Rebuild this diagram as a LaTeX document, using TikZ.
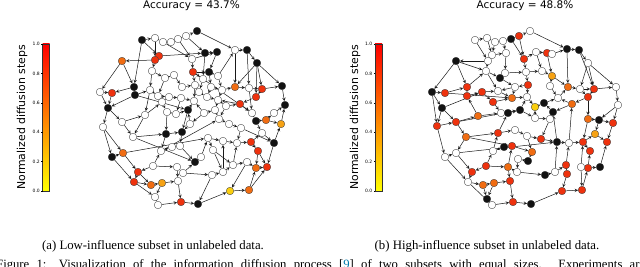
\documentclass[tikz,border=0pt]{standalone}
\usepackage{fontspec}
\setmainfont{Liberation Serif}
\newfontfamily\plotfont{DejaVu Sans}
\usetikzlibrary{positioning,backgrounds}

\definecolor{nW}{RGB}{255,255,255}
\definecolor{nK}{RGB}{18,18,18}
\definecolor{nR}{RGB}{238,50,14}
\definecolor{nO}{RGB}{240,108,18}
\definecolor{nA}{RGB}{246,162,20}
\definecolor{nY}{RGB}{250,206,14}
\definecolor{citeblue}{RGB}{0,120,170}

\tikzset{
  gnode/.style={circle, draw=black!75, line width=0.35pt, inner sep=0pt, minimum size=7.6pt},
  gedge/.style={->, line width=0.5pt, black!90},
  cbar/.style={draw=black!80, line width=0.4pt},
  ticklbl/.style={font=\plotfont\fontsize{4.5}{5}\selectfont, anchor=east, inner sep=0.5pt},
  cbtitle/.style={font=\plotfont\fontsize{10.9}{12}\selectfont, rotate=90},
  acctitle/.style={font=\plotfont\fontsize{10.5}{12}\selectfont, anchor=base},
  subcap/.style={font=\fontsize{12.8}{14}\selectfont, anchor=base},
}

\begin{document}
\begin{tikzpicture}[x=1pt, y=-1pt, >=stealth]
\useasboundingbox (0,0) rectangle (640,267);

% (a) colour bar
\shade[bottom color=yellow, top color=red] (42.5,191) rectangle (49.5,44);
\draw[cbar] (42.5,191) rectangle (49.5,44);
\foreach \v [count=\i from 0] in {0.0,0.2,0.4,0.6,0.8,1.0} {
  \draw[line width=0.3pt] (42.5,191-29.4*\i) -- ++(-1.5,0);
  \node[ticklbl] (ta\i) at (40.5,191-29.4*\i) {\v};
}
\node[cbtitle] (cba) at (22,117.5) {Normalized diffusion steps};
\node[acctitle] (titlea) at (191.5,8.5) {Accuracy = 43.7\%};

% (a) graph
\foreach \n/\x/\y/\c in {1/197/31/nK, 2/142/40/nK, 3/155/38/nW, 4/163/42/nW, 5/171/42/nW, 6/178/39/nW,
  7/186/36/nW, 8/205/53/nK, 9/217/52/nK, 10/235/50/nW, 11/247/50/nK, 12/159/56/nR, 13/155/60/nR,
  14/122/61/nO, 15/192/59/nW, 16/257/63/nK, 17/152/71/nW, 18/165/78/nW, 19/174/75/nW, 20/193/72/nR,
  21/209/72/nK, 22/203/79/nW, 23/218/76/nW, 24/134/87/nK, 25/135/95/nK, 26/100/92/nW, 27/112/93/nR,
  28/150/90/nW, 29/158/96/nW, 30/182/87/nW, 31/195/85/nW, 32/199/92/nW, 33/211/87/nW, 34/169/97/nW,
  35/181/98/nW, 36/207/97/nW, 37/222/90/nW, 38/235/87/nO, 39/249/88/nW, 40/262/89/nR, 41/282/86/nK,
  42/256/97/nR, 43/240/104/nR, 44/285/105/nK, 45/108/108/nK, 46/145/115/nW, 47/167/112/nW,
  48/176/114/nW, 49/188/110/nK, 50/204/113/nW, 51/215/110/nW, 52/219/119/nW, 53/252/113/nW,
  54/266/120/nO, 55/256/121/nK, 56/274/113/nW, 57/281/124/nA, 58/162/102/nW, 59/226/106/nW,
  60/194/101/nW, 61/122/122/nW, 62/103/127/nW, 63/133/137/nW, 64/166/134/nK, 65/182/132/nK,
  66/208/138/nW, 67/223/141/nW, 68/237/143/nW, 69/251/142/nR, 70/274/143/nK, 71/262/133/nW,
  72/112/157/nK, 73/123/153/nO, 74/161/151/nW, 75/172/147/nW, 76/180/146/nW, 77/195/162/nK,
  78/201/157/nW, 79/153/166/nW, 80/138/172/nR, 81/177/167/nW, 82/183/173/nW, 83/212/175/nW,
  84/223/172/nW, 85/233/165/nW, 86/247/162/nW, 87/256/168/nO, 88/267/167/nR, 89/258/151/nR,
  90/134/182/nR, 91/151/185/nO, 92/162/183/nA, 93/178/181/nW, 94/230/191/nY, 95/249/190/nO,
  96/155/197/nW, 97/158/205/nW, 98/181/202/nR, 99/198/204/nK, 100/213/150/nW, 101/218/100/nW,
  102/229/124/nW, 103/241/128/nW, 104/190/124/nW}
  \node[gnode, fill=\c] (a\n) at (\x,\y) {};

\begin{scope}[on background layer]
\foreach \s/\t in {2/3, 3/4, 4/5, 5/6, 6/7, 7/1, 1/10, 10/11, 11/16, 2/24, 2/12, 3/13, 4/15, 6/15, 7/8,
  12/13, 12/8, 13/14, 14/26, 14/24, 13/17, 15/20, 15/9, 8/9, 9/21, 8/22, 20/21, 20/22,
  17/18, 17/28, 18/19, 18/29, 19/30, 20/31, 21/23, 21/33, 22/32, 23/37, 23/10, 10/38,
  11/39, 16/40, 16/42, 16/41, 16/38, 24/25, 24/27, 25/28, 25/45, 26/27, 26/45, 27/45,
  28/29, 29/34, 34/35, 30/31, 31/32, 32/36, 33/36, 33/37, 37/38, 38/39, 39/40, 40/41, 40/42,
  42/43, 41/44, 39/53, 43/53, 35/60, 34/58, 28/46, 29/58, 31/60, 36/101, 37/101, 101/51,
  43/101, 59/43, 59/52, 101/59, 45/62, 45/61, 61/46, 62/72, 61/63, 62/73,
  46/58, 46/63, 58/47, 35/48, 47/48, 48/49, 49/60, 49/65, 47/64, 50/51, 50/60, 50/104, 104/49,
  104/65, 51/52, 52/102, 102/103, 103/68, 53/55, 55/54, 54/56, 56/44, 54/57, 57/44, 55/71,
  71/70, 70/57, 63/64, 64/65, 64/74, 65/76, 74/75, 75/76, 76/77, 77/78, 78/66, 66/67, 67/68,
  68/69, 69/71, 69/89, 89/88, 89/87, 70/88, 66/100, 100/84, 100/85,
  72/73, 73/80, 72/90, 80/90, 80/91, 90/91, 91/92, 92/96, 96/97, 90/96, 97/98, 98/99, 99/94,
  94/95, 95/88, 95/87, 87/88, 86/87, 85/86, 84/85, 83/84, 83/99, 82/83, 81/82, 79/81, 79/74,
  79/80, 81/93, 93/98, 92/93, 82/77, 86/94, 85/68, 84/67,
  73/66, 25/49, 20/53, 63/77, 74/52, 103/70}
  \draw[gedge] (a\s) -- (a\t);
\end{scope}

% (b) colour bar
\shade[bottom color=yellow, top color=red] (375,191) rectangle (382,44);
\draw[cbar] (375,191) rectangle (382,44);
\foreach \v [count=\i from 0] in {0.0,0.2,0.4,0.6,0.8,1.0} {
  \draw[line width=0.3pt] (375,191-29.4*\i) -- ++(-1.5,0);
  \node[ticklbl] (tb\i) at (373,191-29.4*\i) {\v};
}
\node[cbtitle] (cbb) at (355,117.5) {Normalized diffusion steps};
\node[acctitle] (titleb) at (525,8.5) {Accuracy = 48.8\%};

% (b) graph
\foreach \n/\x/\y/\c in {1/530/31/nW, 2/519/36/nR, 3/511/39/nK, 4/503/41/nW, 5/495/42/nW, 6/487/38/nW,
  7/475/40/nW, 8/492/55/nW, 9/488/61/nW, 10/456/61/nK, 11/524/59/nR, 12/506/53/nW, 13/536/52/nW,
  14/547/53/nR, 15/552/54/nW, 16/567/49/nK, 17/579/50/nK, 18/588/63/nW, 19/486/71/nW, 20/505/73/nW,
  21/500/78/nK, 22/526/72/nW, 23/542/71/nW, 24/552/76/nA, 25/528/85/nR, 26/550/86/nW, 27/515/87/nW,
  28/432/92/nK, 29/445/93/nR, 30/467/87/nR, 31/467/96/nR, 32/482/92/nR, 33/493/102/nR, 34/498/91/nW,
  35/512/98/nO, 36/527/97/nW, 37/535/107/nY, 38/544/103/nK, 39/558/98/nW, 40/568/87/nO, 41/580/89/nW,
  42/594/89/nR, 43/616/87/nW, 44/588/97/nR, 45/572/104/nO, 46/618/105/nW, 47/442/108/nK,
  48/478/116/nO, 49/501/113/nW, 50/508/113/nK, 51/520/110/nK, 52/553/112/nK, 53/550/119/nW,
  54/535/118/nW, 55/588/119/nO, 56/599/120/nK, 57/613/123/nR, 58/437/126/nR, 59/456/122/nR,
  60/466/137/nO, 61/498/133/nR, 62/515/130/nW, 63/527/136/nW, 64/504/147/nK, 65/512/146/nR,
  66/493/151/nW, 67/541/139/nR, 68/557/142/nK, 69/569/143/nW, 70/583/142/nR, 71/595/134/nA,
  72/607/142/nR, 73/532/152/nO, 74/528/161/nK, 75/590/151/nR, 76/445/157/nW, 77/456/153/nW,
  78/486/166/nR, 79/472/172/nR, 80/508/167/nO, 81/517/172/nW, 82/518/159/nW, 83/545/175/nK,
  84/555/172/nW, 85/566/165/nR, 86/567/174/nR, 87/588/168/nR, 88/600/167/nK, 89/581/167/nW,
  90/468/182/nW, 91/483/185/nO, 92/494/183/nO, 93/510/181/nR, 94/562/191/nR, 95/582/190/nR,
  96/487/199/nK, 97/492/205/nW, 98/513/202/nR, 99/531/204/nK}
  \node[gnode, fill=\c] (b\n) at (\x,\y) {};

\begin{scope}[on background layer]
\foreach \s/\t in {7/6, 6/5, 5/4, 4/3, 3/2, 2/1, 1/16, 16/17, 17/18, 7/9, 6/8, 4/12, 3/11, 2/11, 5/8,
  9/10, 10/28, 10/30, 10/19, 8/9, 8/12, 9/19, 12/20, 11/22, 11/13, 13/14, 14/15, 15/16, 13/23,
  14/24, 16/40, 18/41, 18/43, 18/42, 17/42, 19/21, 19/34, 20/21, 20/22, 21/27, 22/23, 22/25,
  23/24, 24/26, 25/27, 25/36, 26/39, 27/35, 27/34, 24/40, 28/29, 28/47, 29/30, 30/31, 30/19,
  31/32, 32/33, 32/34, 33/35, 33/49, 34/35, 35/36, 36/37, 37/38, 38/39, 39/40, 40/41, 41/42,
  42/43, 42/44, 44/45, 43/46, 44/55, 45/39, 46/57, 45/52, 41/44, 47/58, 47/59, 58/59, 58/76,
  59/60, 59/48, 48/31, 48/49, 49/50, 50/51, 51/36, 51/54, 54/53, 53/52, 52/38, 53/67, 54/37,
  55/56, 56/57, 55/70, 56/71, 57/72, 71/72, 70/71, 70/75, 46/56, 60/61, 60/77, 61/62, 61/50,
  62/63, 63/67, 63/73, 64/65, 64/66, 65/73, 66/61, 67/68, 68/69, 69/70, 68/52, 69/45,
  73/74, 74/82, 82/81, 81/80, 80/65, 80/93, 81/83, 83/84, 84/85, 85/86, 86/94, 85/69, 87/88,
  87/75, 88/72, 89/87, 89/70, 89/95, 84/68, 76/77, 76/90, 77/79, 78/79, 78/66, 78/80, 79/90,
  90/91, 91/92, 92/93, 91/96, 96/97, 97/98, 98/99, 99/94, 94/95, 95/87, 93/98, 92/96, 90/97,
  29/35, 59/51, 77/68, 47/32, 60/65, 28/58}
  \draw[gedge] (b\s) -- (b\t);
\end{scope}

% captions
\node[subcap] (capa) at (153,249) {(a) Low-influence subset in unlabeled data.};
\node[subcap] (capb) at (487,249) {(b) High-influence subset in unlabeled data.};
\node[anchor=base west, inner sep=0pt, font=\fontsize{12.7}{14}\selectfont] (figcap) at (-4,268.5)
  {\makebox[649pt][s]{Figure 1: Visualization of the information diffusion process [{\color{citeblue}9}] of two subsets with equal sizes. Experiments are}};
\end{tikzpicture}
\end{document}
